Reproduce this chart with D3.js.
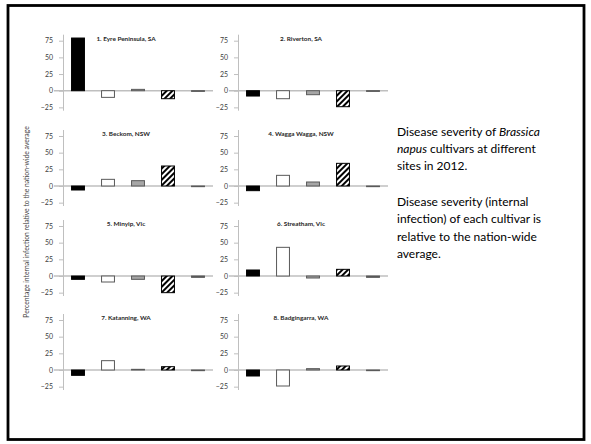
<!DOCTYPE html>
<html><head><meta charset="utf-8">
<script src="https://cdn.jsdelivr.net/npm/d3@7"></script>
<style>body{margin:0;background:#fff}svg{display:block}</style>
</head><body>
<svg id="c" width="591" height="444"></svg>
<script>
const sites = ["1. Eyre Peninsula, SA","2. Riverton, SA","3. Beckom, NSW","4. Wagga Wagga, NSW","5. Minyip,  Vic","6. Streatham, Vic","7. Katanning,  WA","8. Badgingarra,  WA"];
const cultivars = ["C1","C2","C3","C4","C5"];
const cultivar1 = [79, -8, -6, -7, -5, 9, -8, -9];
const cultivar2 = [-10, -12, 10, 16, -9, 43, 14, -24];
const cultivar3 = [2, -6, 8, 6, -5, -3, 1, 2];
const cultivar4 = [-12, -24, 30, 34, -25, 10, 5, 6];
const cultivar5 = [-1, -1, -1, -1, -2, -2, -1, -1];
const yTicks = [-25, 0, 25, 50, 75];
const yLabel = "Percentage internal infection relative to the nation-wide average";

const series = [cultivar1, cultivar2, cultivar3, cultivar4, cultivar5];
const svg = d3.select("#c");

const defs = svg.append("defs");
const pat = defs.append("pattern").attr("id","hatch").attr("patternUnits","userSpaceOnUse")
  .attr("width",4).attr("height",4).attr("patternTransform","rotate(45)");
pat.append("rect").attr("width",4).attr("height",4).attr("fill","#fff");
pat.append("rect").attr("width",2).attr("height",4).attr("fill","#000");

const fills = ["#000","#fff","#a6a6a6","url(#hatch)","#595959"];
const strokes = ["#000","#595959","#595959","#000","#595959"];

// slide border
svg.append("rect").attr("x",8).attr("y",5.5).attr("width",576).attr("height",434)
  .attr("fill","none").attr("stroke","#000").attr("stroke-width",2.8);

const colX = [63, 238];
const rowZero = [90.7, 186, 276, 370];
const ppu = 50/75;
const dom = [-30, 84];
const ph = (dom[1]-dom[0])*ppu;
const pw = 150;
const ff = "Lato, 'Open Sans', sans-serif";

sites.forEach((site, i) => {
  const col = i % 2, row = Math.floor(i/2);
  const g = svg.append("g").attr("transform", `translate(${colX[col]},${rowZero[row] - dom[1]*ppu})`);
  const y = d3.scaleLinear().domain(dom).range([ph, 0]);
  const x = d3.scaleBand().domain(cultivars).range([0, pw]).paddingInner(0.57).paddingOuter(0.285);

  const ax = g.append("g").call(d3.axisLeft(y).tickValues(yTicks).tickSize(4).tickPadding(6).tickFormat(d3.format("d")));
  ax.select(".domain").attr("stroke","#bfbfbf").attr("d", `M0.5,${y(dom[1])}V${y(dom[0])}`);
  ax.selectAll(".tick line").attr("stroke","#bfbfbf");
  ax.selectAll(".tick text").attr("fill","#404040").attr("font-size",7).attr("font-family",ff);

  // zero line
  g.append("line").attr("x1",-9).attr("x2",pw).attr("y1",y(0)).attr("y2",y(0))
    .attr("stroke","#bfbfbf").attr("stroke-width",1.5);

  const vals = series.map(s => s[i]);
  g.selectAll("rect.bar").data(vals).join("rect").attr("class","bar")
    .attr("x",(d,k)=>x(cultivars[k]))
    .attr("width",x.bandwidth())
    .attr("y",d=>y(Math.max(0,d)))
    .attr("height",d=>Math.abs(y(d)-y(0)))
    .attr("fill",(d,k)=>fills[k])
    .attr("stroke",(d,k)=>strokes[k])
    .attr("stroke-width",1);

  g.append("text").attr("x",63).attr("y",y(0)-50).attr("text-anchor","middle")
    .attr("font-family",ff).attr("font-size",6.4).attr("font-weight","bold")
    .attr("fill","#262626").text(site);
});

svg.append("text").attr("transform","translate(29,222) rotate(-90)").attr("text-anchor","middle")
  .attr("font-family",ff).attr("font-size",6.8).attr("fill","#404040").text(yLabel);

const tf = "Lato, Calibri, 'Open Sans', sans-serif";
const p1 = svg.append("text").attr("font-family",tf).attr("font-size",12).attr("fill","#000");
p1.append("tspan").attr("x",397).attr("y",136).text("Disease severity of ").append("tspan").attr("font-style","italic").text("Brassica");
const l2 = p1.append("tspan").attr("x",397).attr("y",153);
l2.append("tspan").attr("font-style","italic").text("napus");
l2.append("tspan").text(" cultivars at different");
p1.append("tspan").attr("x",397).attr("y",169.5).text("sites in 2012.");

const para2 = ["Disease severity (internal","infection) of each cultivar is","relative to the nation-wide","average."];
svg.append("text").attr("font-family",tf).attr("font-size",12).attr("fill","#000")
  .selectAll("tspan").data(para2).join("tspan").attr("x",397).attr("y",(d,k)=>206+k*17.3).text(d=>d);
</script>
</body></html>
